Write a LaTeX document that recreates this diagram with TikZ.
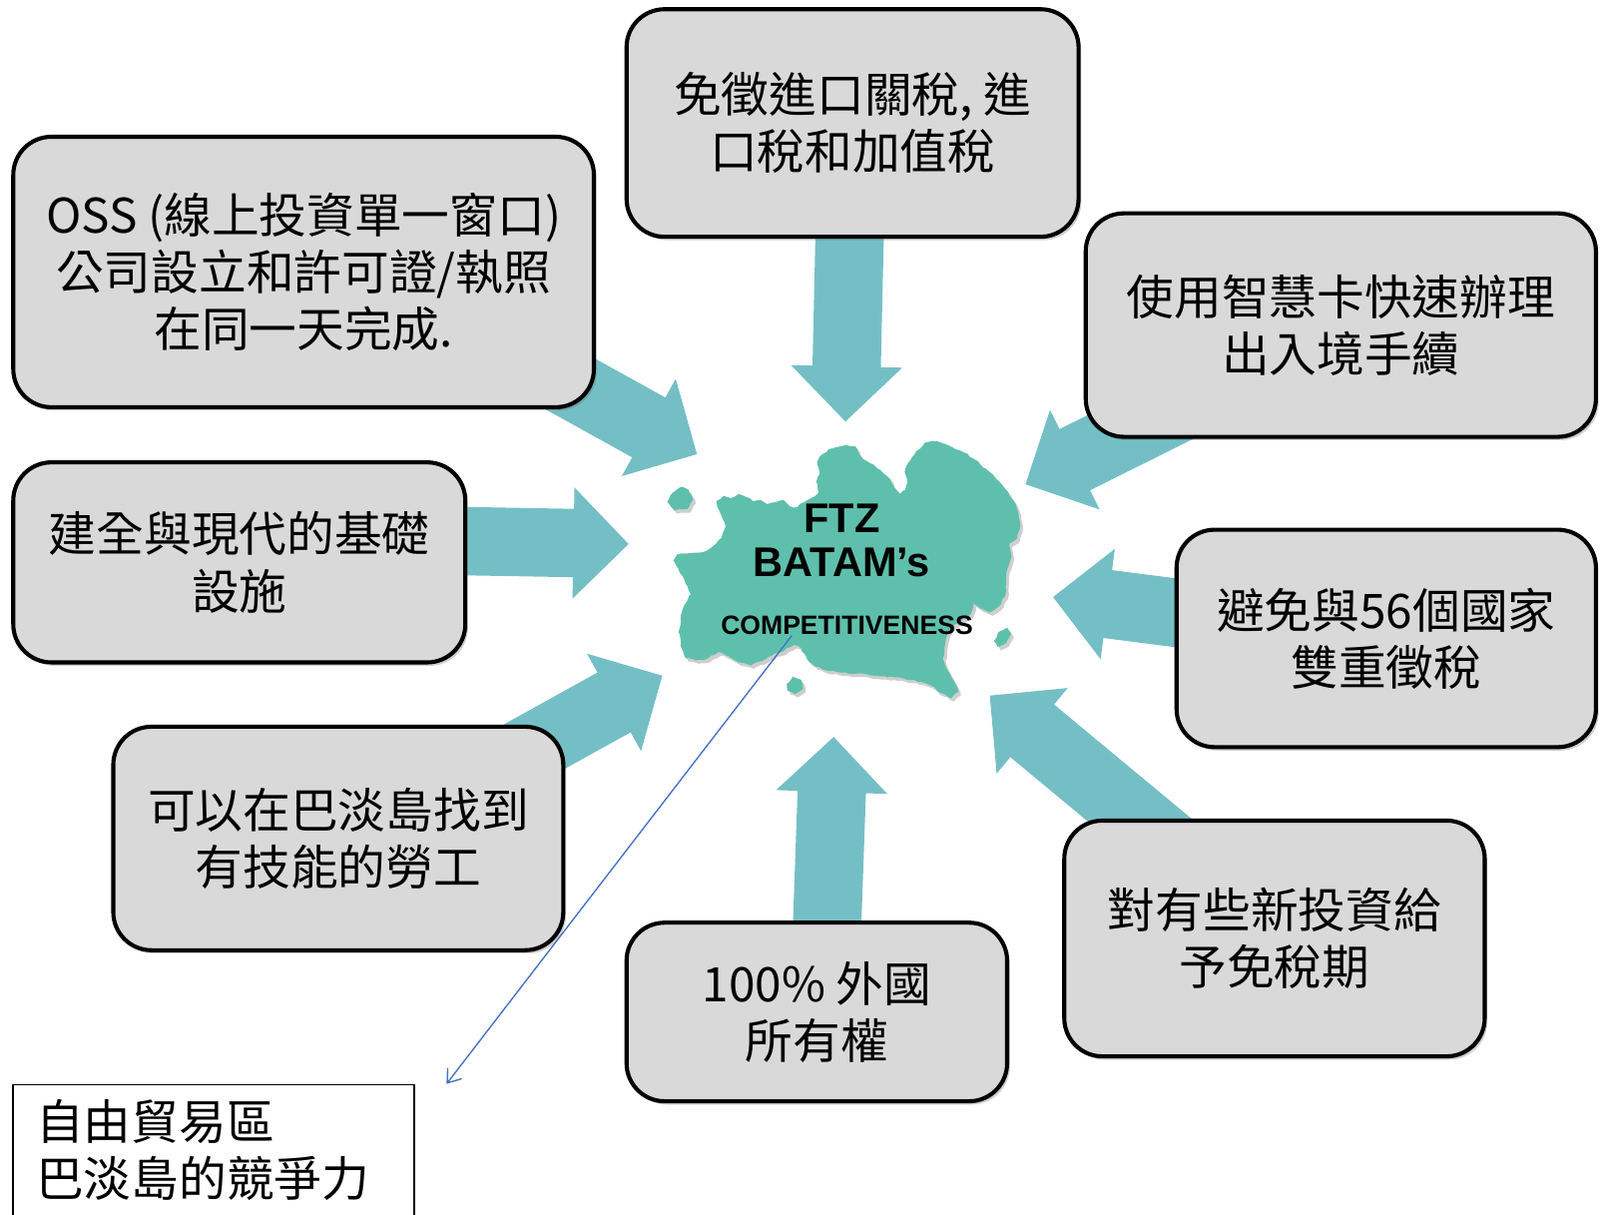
\documentclass[tikz,border=0pt]{standalone}
\usepackage{fontspec}
\setmainfont{Noto Sans CJK TC}
\newfontfamily\latinbold{Liberation Sans}
\usetikzlibrary{arrows.meta,shadows,decorations.pathmorphing}

\definecolor{cardgray}{RGB}{217,217,217}
\definecolor{flowteal}{RGB}{116,191,197}
\definecolor{islandgreen}{RGB}{94,192,172}
\definecolor{pinblue}{RGB}{68,114,196}

\tikzset{every picture/.style={line width=0.75pt}}
\tikzset{
	card/.style={draw, line width=3pt, rounded corners=28pt, fill=cardgray, align=center, inner sep=0pt,
		font=\fontsize{35}{42}\selectfont,
		drop shadow={shadow xshift=2pt, shadow yshift=-2.5pt, opacity=.3, fill=black!60}},
	flow/.style={fill=flowteal},
	island/.style={fill=islandgreen, decorate, decoration={random steps, segment length=3pt, amplitude=.7pt},
		preaction={fill=black!55, opacity=.35, transform canvas={shift={(2pt,-2.5pt)}}}},
}
% block arrow: tip, angle, length
\newcommand{\blockarrow}[3]{%
	\fill[flow, shift={(#1)}, rotate=#2] (0,0) -- (-54,54.5) -- (-54,33.5) -- (-#3,33.5) -- (-#3,-33.5) -- (-54,-33.5) -- (-54,-54.5) -- cycle;}

\begin{document}
\begin{tikzpicture}[x=0.75pt,y=0.75pt,yscale=-1,xscale=1]
	\useasboundingbox (0,0) rectangle (1568,1190);

	% Arrow tips
	\coordinate (tiptariff) at (828.5,413);
	\coordinate (tiposs) at (683,445);
	\coordinate (tipinfra) at (616,533);
	\coordinate (tiplabour) at (649,662);
	\coordinate (tipownership) at (817,722);
	\coordinate (tipholiday) at (970,681.5);
	\coordinate (tiptreaty) at (1032,585);
	\coordinate (tipsmartcard) at (1005,474.5);

	% Block arrows
	\blockarrow{tiptariff}{91.3}{200}
	\blockarrow{tiposs}{29}{180}
	\blockarrow{tipinfra}{1}{180}
	\blockarrow{tiplabour}{-29}{180}
	\blockarrow{tipownership}{-88}{200}
	\blockarrow{tipholiday}{219.7}{240}
	\blockarrow{tiptreaty}{187.3}{160}
	\blockarrow{tipsmartcard}{153.5}{200}

	% Island
	\fill[island] (702,491) -- (709,486) -- (716,488) -- (724,484) -- (731,487) -- (738,491) -- (746,490) -- (752,494) -- (760,492) -- (768,490) -- (774,496) -- (781,497) -- (788,492) -- (795,488) -- (802,483) -- (800,472) -- (803,462) -- (801,452) -- (806,445) -- (812,440) -- (820,438) -- (829,436) -- (838,437) -- (841,443) -- (846,450) -- (853,454) -- (860,459) -- (866,464) -- (873,470) -- (876,477) -- (882,484) -- (887,480) -- (889,470) -- (887,460) -- (892,451) -- (898,442) -- (906,434) -- (914,432) -- (923,434) -- (933,438) -- (944,443) -- (955,450) -- (966,459) -- (976,469) -- (985,479) -- (993,490) -- (998,502) -- (1000,515) -- (997,527) -- (989,534) -- (991,546) -- (987,558) -- (986,571) -- (985,584) -- (979,594) -- (970,600) -- (961,596) -- (954,591) -- (951,602) -- (943,607) -- (936,612) -- (929,620) -- (926,632) -- (924,645) -- (929,657) -- (935,667) -- (939,678) -- (932,684) -- (922,679) -- (913,672) -- (903,668) -- (889,666) -- (874,663) -- (857,662) -- (840,660) -- (824,659) -- (810,657) -- (799,653) -- (791,646) -- (785,635) -- (778,632) -- (768,638) -- (757,642) -- (746,648) -- (736,652) -- (724,649) -- (714,643) -- (704,639) -- (694,645) -- (682,647) -- (672,645) -- (667,633) -- (665,619) -- (667,605) -- (671,592) -- (677,582) -- (672,572) -- (666,561) -- (660,549) -- (664,543) -- (676,542) -- (689,541) -- (699,535) -- (707,527) -- (711,516) -- (706,503) -- cycle;
	\fill[island] (654,492) -- (659,483) -- (667,477) -- (675,480) -- (679,490) -- (673,499) -- (661,500) -- cycle;
	\fill[island] (771,670) -- (777,663) -- (785,666) -- (787,675) -- (779,680) -- (772,677) -- cycle;
	\fill[island] (974,628) -- (979,619) -- (987,615) -- (991,621) -- (986,630) -- (978,634) -- cycle;

	% Island label
	\node[font=\latinbold\bfseries\fontsize{30.5}{32.25}\selectfont, align=center, inner sep=0pt] (ftz) at (825,530) {FTZ\\BATAM’s};
	\node[font=\latinbold\bfseries\fontsize{19.5}{20}\selectfont, inner sep=0pt] (ftzsub) at (830,613) {COMPETITIVENESS};

	% Boxes
	\node[card, minimum width=426.75pt, minimum height=198.75pt] (oss) at (297.5,266.5) {OSS (線上投資單一窗口)\\公司設立和許可證/執照\\在同一天完成.};
	\node[card, minimum width=332.25pt, minimum height=167.25pt] (tariff) at (835.5,120.5) {免徵進口關稅, 進\\口稅和加值稅};
	\node[card, minimum width=375pt, minimum height=164.25pt] (smartcard) at (1314,318.5) {使用智慧卡快速辦理\\出入境手續};
	\node[card, minimum width=332.25pt, minimum height=147pt] (infra) at (234.5,551) {建全與現代的基礎\\設施};
	\node[card, minimum width=308.25pt, minimum height=159.75pt] (treaty) at (1358.5,625.5) {避免與56個國家\\雙重徵稅};
	\node[card, minimum width=330.75pt, minimum height=164.25pt] (labour) at (331.5,821.5) {可以在巴淡島找到\\有技能的勞工};
	\node[card, minimum width=279.75pt, minimum height=131.25pt] (ownership) at (800.5,991.5) {100\% 外國\\所有權};
	\node[card, minimum width=309pt, minimum height=173.25pt] (holiday) at (1249,919.5) {對有些新投資給\\予免稅期};

	% Caption
	\node[draw, line width=1.2pt, anchor=north west, text width=261pt, align=left, inner xsep=17pt, inner ysep=11pt,
		font=\fontsize{35}{42}\selectfont] (caption) at (12,1062) {自由貿易區\\巴淡島的競爭力};

	% Pointer
	\draw[pinblue, line width=1pt, -{Straight Barb[length=9pt,width=13pt]}] ([xshift=-40.5pt]ftzsub.south) -- ([xshift=23pt]caption.north east);

\end{tikzpicture}
\end{document}
